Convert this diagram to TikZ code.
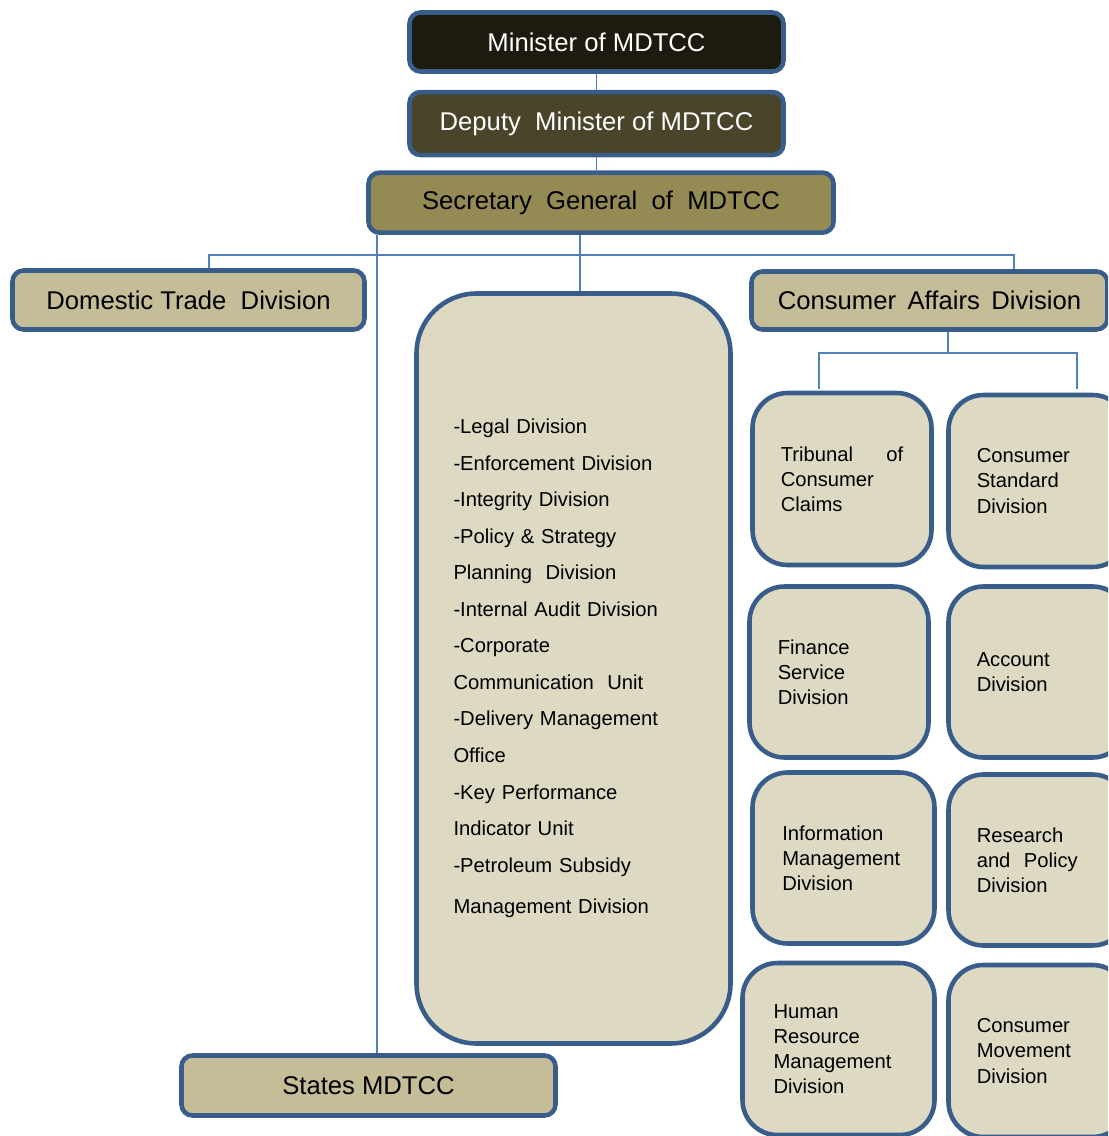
\documentclass[tikz,border=0pt]{standalone}
\usepackage{fontspec}
\setmainfont{Liberation Sans}
\usetikzlibrary{positioning}
\definecolor{ministerfill}{HTML}{1D1B10}
\definecolor{deputyfill}{HTML}{4A452A}
\definecolor{secfill}{HTML}{948A54}
\definecolor{divfill}{HTML}{C4BD97}
\definecolor{unitfill}{HTML}{DDD9C3}
\definecolor{boxline}{HTML}{385D8A}
\definecolor{linkline}{HTML}{4F81BD}

\begin{document}
\begin{tikzpicture}[
    head/.style={rectangle, rounded corners=0.22cm, draw=boxline, line width=2.6pt, inner sep=0pt, font=\fontsize{14.6}{17.5}\selectfont},
    unit/.style={rectangle, rounded corners=0.7cm, draw=boxline, line width=2.6pt, fill=unitfill, minimum width=3.58cm, minimum height=3.44cm, text width=2.45cm, align=left, font=\fontsize{11.5}{14.3}\selectfont},
    conn/.style={draw=linkline, line width=1pt}
  ]
      \useasboundingbox (0,0) rectangle (22.16,-22.72);
      \clip (0,0) rectangle (22.16,-22.72);
      \node[head, fill=ministerfill, text=white, minimum width=7.48cm, minimum height=1.18cm] (minister) at (11.93,-0.84) {Minister of MDTCC};
      \node[head, fill=deputyfill, text=white, below=0.32cm of minister, minimum width=7.48cm, minimum height=1.26cm] (deputy) {Deputy\ \ Minister of MDTCC};
      \node[head, fill=secfill, below=0.26cm of deputy, xshift=0.09cm, minimum width=9.3cm, minimum height=1.2cm] (secretary) {Secretary\ \ General\ \ of\ \ MDTCC};
      \node[head, fill=divfill, minimum width=7.04cm, minimum height=1.18cm] (domestic) at (3.77,-6.0) {Domestic Trade\ \ Division};
      \node[head, fill=divfill, minimum width=7.12cm, minimum height=1.16cm] (consaff) at (18.59,-6.01) {Consumer\hspace{0.45em}Affairs\hspace{0.45em}Division};
      \node[rectangle, rounded corners=1.2cm, draw=boxline, line width=2.6pt, fill=unitfill, minimum width=6.28cm, minimum height=15cm, text width=4.8cm, align=left, font=\fontsize{11.5}{20.8}\selectfont] (staff) at (11.47,-13.37) {-Legal Division\\
        -Enforcement Division\\
        -Integrity Division\\
        -Policy \& Strategy\\
        Planning\ \ Division\\
        -Internal Audit Division\\
        -Corporate\\
        Communication\ \ Unit\\
        -Delivery Management\\
        Office\\
        -Key Performance\\
        Indicator Unit\\
        -Petroleum Subsidy\\[3pt]
        Management Division};
      \node[head, fill=divfill, minimum width=7.48cm, minimum height=1.2cm] (states) at (7.37,-21.71) {States MDTCC};
      % consumer affairs units
      \node[unit] (tribunal) at (16.84,-9.58) {Tribunal\hfill of\\Consumer\\Claims};
      \node[unit] (stdiv) at (20.76,-9.62) {Consumer\\Standard\\Division};
      \node[unit, minimum height=3.42cm] (finance) at (16.78,-13.44) {Finance\\Service\\Division};
      \node[unit, minimum height=3.42cm] (account) at (20.76,-13.44) {Account\\Division};
      \node[unit, minimum width=3.64cm, minimum height=3.42cm] (infomgmt) at (16.87,-17.16) {Information\\Management\\Division};
      \node[unit, minimum height=3.42cm] (research) at (20.76,-17.2) {Research\\and\ \ Policy\\Division};
      \node[unit, minimum width=3.84cm, text width=2.6cm] (hrdiv) at (16.77,-20.98) {Human\\Resource\\Management\\Division};
      \node[unit] (movement) at (20.76,-21.02) {Consumer\\Movement\\Division};
      % links
      \draw[conn] (minister.south) -- (deputy.north);
      \draw[conn] (deputy.south) -- (deputy.south |- secretary.north);
      \draw[conn] ([xshift=0.13cm]staff.north) -- ([xshift=0.13cm]staff.north |- secretary.south);
      \draw[conn] ([xshift=0.17cm]states.north) -- ([xshift=0.17cm]states.north |- secretary.south);
      \draw[conn] ([xshift=0.41cm]domestic.north) -- ++(0,0.26) -| ([xshift=1.69cm]consaff.north);
      \draw[conn] ([xshift=0.37cm]consaff.south) -- ++(0,-0.4);
      \draw[conn] ([xshift=-0.46cm, yshift=0.04cm]tribunal.north) -- ++(0,0.72) -| ([xshift=0.78cm, yshift=0.08cm]stdiv.north);
    \end{tikzpicture}
\end{document}
